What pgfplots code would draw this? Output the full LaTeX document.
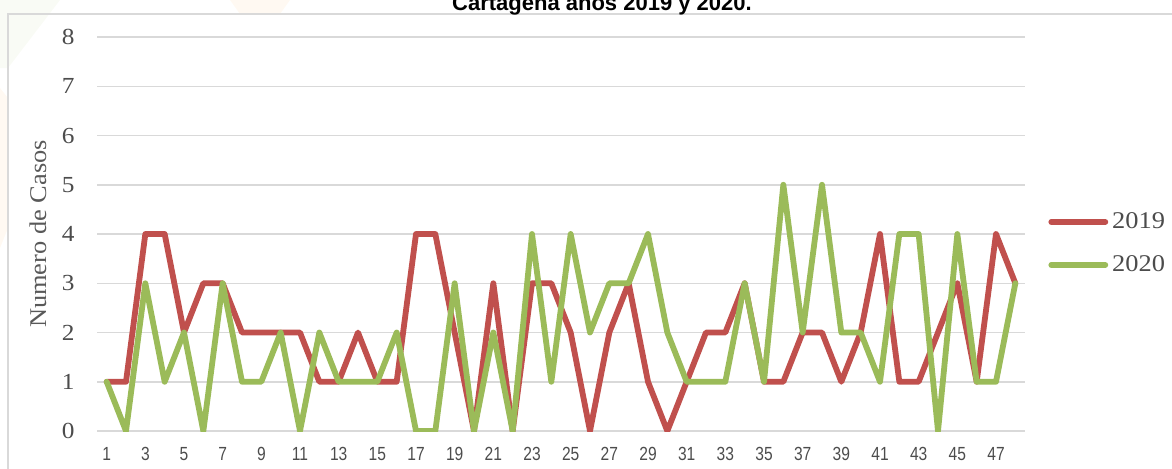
\documentclass[border=0pt]{standalone}
\usepackage{pgfplots}
\pgfplotsset{compat=1.18}
\usepackage{fontspec}
\setmainfont{Liberation Serif}[FakeStretch=1.1]
\newfontfamily\arialn{Liberation Sans}[FakeStretch=0.82]
\newfontfamily\arialf{Liberation Sans}
\definecolor{cred}{HTML}{C0504D}
\definecolor{cgreen}{HTML}{9BBB59}
\definecolor{gridc}{HTML}{D9D9D9}
\begin{document}
\begin{tikzpicture}
\useasboundingbox (0pt,0pt) rectangle (586pt,234pt);
\clip (0pt,0pt) rectangle (586pt,234pt);
% faint background decoration
\fill[cgreen!6] (0pt,234pt) -- (30pt,234pt) -- (4pt,200pt) -- (0pt,200pt) -- cycle;
\fill[orange!5] (0pt,190pt) -- (4pt,185pt) -- (4pt,120pt) -- (0pt,110pt) -- cycle;
\fill[orange!5] (115pt,234pt) -- (145pt,234pt) -- (140pt,227pt) -- (120pt,227pt) -- cycle;
% chart border
\draw[gridc, line width=0.75pt] (4pt,-5pt) -- (4pt,227pt) -- (600pt,227pt);
% title (cut off at the top, as in the source)
\node[font=\arialf\bfseries\fontsize{11}{13}\selectfont, anchor=base, inner sep=0pt] at (301pt,229pt) {Cartagena años 2019 y 2020.};
\begin{axis}[
  at={(48.5pt,18.5pt)}, anchor=south west,
  scale only axis, width=464pt, height=197pt,
  xmin=0.5, xmax=48.5, ymin=0, ymax=8,
  xtick={1,3,...,47}, ytick={0,1,...,8},
  /pgf/number format/assume math mode=true,
  axis line style={draw=none},
  tick style={draw=none},
  ymajorgrids, grid style={gridc, line width=0.75pt},
  xticklabel style={font=\arialn\fontsize{9.5}{10}\selectfont, color=black!70, inner sep=0pt, anchor=north, yshift=-8pt},
  yticklabel style={font=\fontsize{11.5}{12}\selectfont, color=black!70, inner sep=0pt, anchor=east, xshift=-11pt},
  ylabel={Numero de Casos},
  ylabel style={font=\fontsize{12}{14}\selectfont, color=black!65, at={(axis description cs:-0.0636,0.5)}, anchor=center},
  legend style={at={(1.0248,0.476)}, anchor=west, draw=none, fill=none, inner sep=0pt,
    font=\fontsize{12}{14}\selectfont, text=black!70, row sep=8pt,
    legend cell align=left},
  legend image code/.code={\draw[#1, line width=2.9pt, line cap=round] (0pt,0pt) -- (27pt,0pt);},
  every axis plot/.append style={line width=2.9pt, line join=round, line cap=round, mark=none},
]
\addplot[cred] coordinates {
(1,1)(2,1)(3,4)(4,4)(5,2)(6,3)(7,3)(8,2)(9,2)(10,2)(11,2)(12,1)(13,1)(14,2)(15,1)(16,1)
(17,4)(18,4)(19,2)(20,0)(21,3)(22,0)(23,3)(24,3)(25,2)(26,0)(27,2)(28,3)(29,1)(30,0)(31,1)(32,2)
(33,2)(34,3)(35,1)(36,1)(37,2)(38,2)(39,1)(40,2)(41,4)(42,1)(43,1)(44,2)(45,3)(46,1)(47,4)(48,3)};
\addlegendentry{2019}
\addplot[cgreen] coordinates {
(1,1)(2,0)(3,3)(4,1)(5,2)(6,0)(7,3)(8,1)(9,1)(10,2)(11,0)(12,2)(13,1)(14,1)(15,1)(16,2)
(17,0)(18,0)(19,3)(20,0)(21,2)(22,0)(23,4)(24,1)(25,4)(26,2)(27,3)(28,3)(29,4)(30,2)(31,1)(32,1)
(33,1)(34,3)(35,1)(36,5)(37,2)(38,5)(39,2)(40,2)(41,1)(42,4)(43,4)(44,0)(45,4)(46,1)(47,1)(48,3)};
\addlegendentry{2020}
\end{axis}
\end{tikzpicture}
\end{document}
